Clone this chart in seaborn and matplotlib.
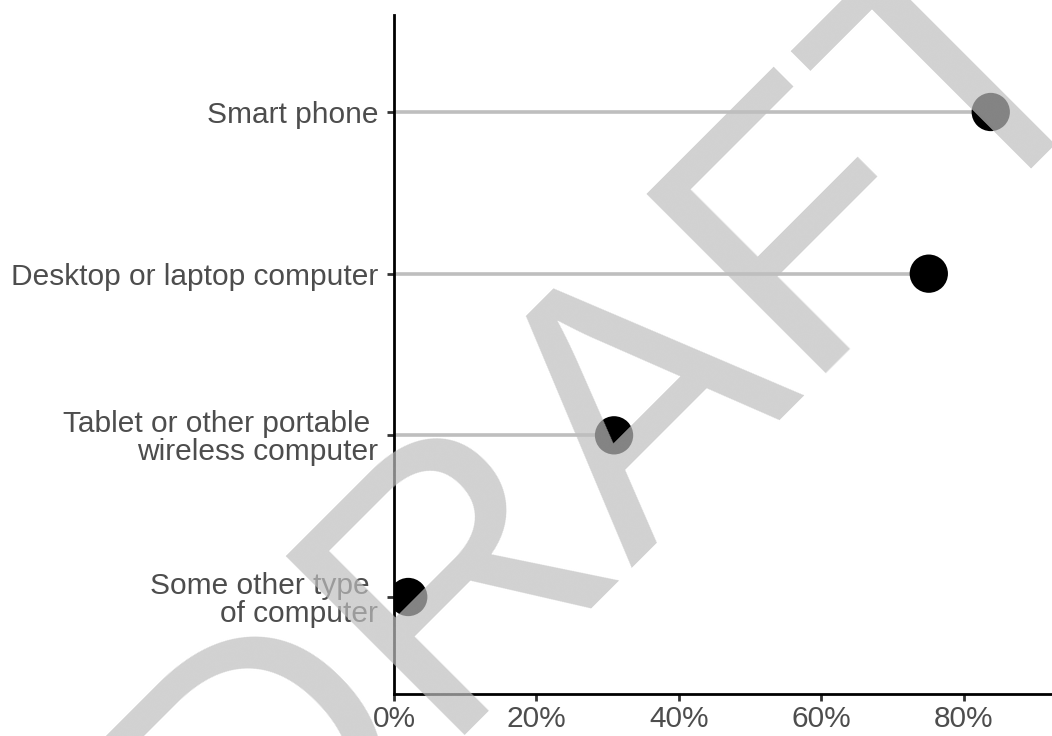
import numpy as np
import pandas as pd
import matplotlib
matplotlib.use("Agg")
import matplotlib.pyplot as plt
from matplotlib.ticker import PercentFormatter
import seaborn as sns

categories = ["Smart phone", "Desktop or laptop computer",
              "Tablet or other portable \nwireless computer",
              "Some other type \nof computer"]
values = [0.838, 0.751, 0.309, 0.020]
x_ticks = [0.0, 0.2, 0.4, 0.6, 0.8]

sns.set_theme(style="ticks")
plt.rcParams['font.family'] = ['Liberation Sans', 'DejaVu Sans']

df = pd.DataFrame({"category": categories, "value": values,
                   "pos": np.arange(len(categories))})

fig = plt.figure(figsize=(10.52, 7.36), dpi=100)
ax = fig.add_axes([394/1052, 42/736, (1052-394)/1052, (694-15)/736])

ax.hlines(y=df["pos"], xmin=0, xmax=df["value"], color="#bebebe",
          linewidth=2.6, zorder=1)
sns.scatterplot(data=df, x="value", y="pos", color="black", s=760,
                edgecolor="none", linewidth=0, ax=ax, zorder=3, legend=False)

ax.set_xlim(0, 0.924)
ax.set_ylim(len(categories) - 1 + 0.6, -0.6)
ax.set_yticks(df["pos"])
ax.set_yticklabels(categories, linespacing=1.0)
ax.set_xticks(x_ticks)
ax.xaxis.set_major_formatter(PercentFormatter(1.0, decimals=0))
ax.set_xlabel("")
ax.set_ylabel("")

for side in ["top", "right"]:
    ax.spines[side].set_visible(False)
for side in ["left", "bottom"]:
    ax.spines[side].set_color("black")
    ax.spines[side].set_linewidth(2.0)

ax.tick_params(axis="both", colors="#333333", length=5, width=2,
               labelcolor="#4d4d4d", labelsize=21.5)
ax.tick_params(axis="y", pad=6.5)
ax.tick_params(axis="x", pad=3)
ax.grid(False)

fig.text(682/1052, 1 - 488/736, "DRAFT", fontsize=265, color="#bebebe",
         alpha=0.7, rotation=45, rotation_mode="anchor", ha="center",
         va="baseline", zorder=10)

fig.savefig("out.png", dpi=100)
